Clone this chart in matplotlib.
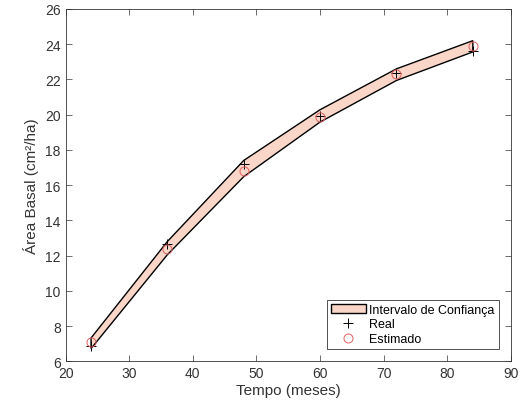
import matplotlib.pyplot as plt
import numpy as np

# Tempo (meses)
tempo = [24, 36, 48, 60, 72, 84]

# Área basal observada e estimada
real = [6.85, 12.65, 17.2, 19.9, 22.35, 23.6]
estimado = [7.12, 12.38, 16.8, 19.88, 22.3, 23.88]

# Limites do intervalo de confiança
ic_inf = [6.72, 12.05, 16.48, 19.58, 21.94, 23.56]
ic_sup = [7.32, 12.8, 17.4, 20.28, 22.6, 24.2]

plt.rcParams["font.family"] = ["Liberation Sans", "DejaVu Sans"]

fig = plt.figure(figsize=(5.29, 4.14), dpi=100)
ax = fig.add_axes([0.124, 0.125, 0.842, 0.851])

gray = "#333333"

poly_x = tempo + tempo[::-1]
poly_y = ic_sup + ic_inf[::-1]
ax.fill(poly_x, poly_y, facecolor="#fad6c8", edgecolor="black",
        linewidth=1.0, label="Intervalo de Confiança")
ax.plot(tempo, real, linestyle="none", marker="+", color="black",
        markersize=7, markeredgewidth=0.7, label="Real")
ax.plot(tempo, estimado, linestyle="none", marker="o", markerfacecolor="none",
        markeredgecolor="#e06060", markersize=6.5, markeredgewidth=0.7,
        label="Estimado")

ax.set_xlim(20, 90)
ax.set_ylim(6, 26)
ax.set_xticks(np.arange(20, 91, 10))
ax.set_yticks(np.arange(6, 27, 2))

ax.tick_params(direction="in", top=True, right=True, length=4, width=0.5,
               colors=gray, labelsize=10)
for spine in ax.spines.values():
    spine.set_linewidth(0.6)
    spine.set_color(gray)

ax.set_xlabel("Tempo (meses)", fontsize=11, color=gray, labelpad=2)
ax.set_ylabel("Área Basal (cm²/ha)", fontsize=11, color=gray, labelpad=4)

leg = ax.legend(loc="lower right", fontsize=9, fancybox=False,
                edgecolor=gray, framealpha=1, borderaxespad=1.0,
                handlelength=2.8, handletextpad=0.3, labelspacing=0.2,
                borderpad=0.3)
leg.get_frame().set_linewidth(0.6)

fig.savefig("out.png", dpi=100)
